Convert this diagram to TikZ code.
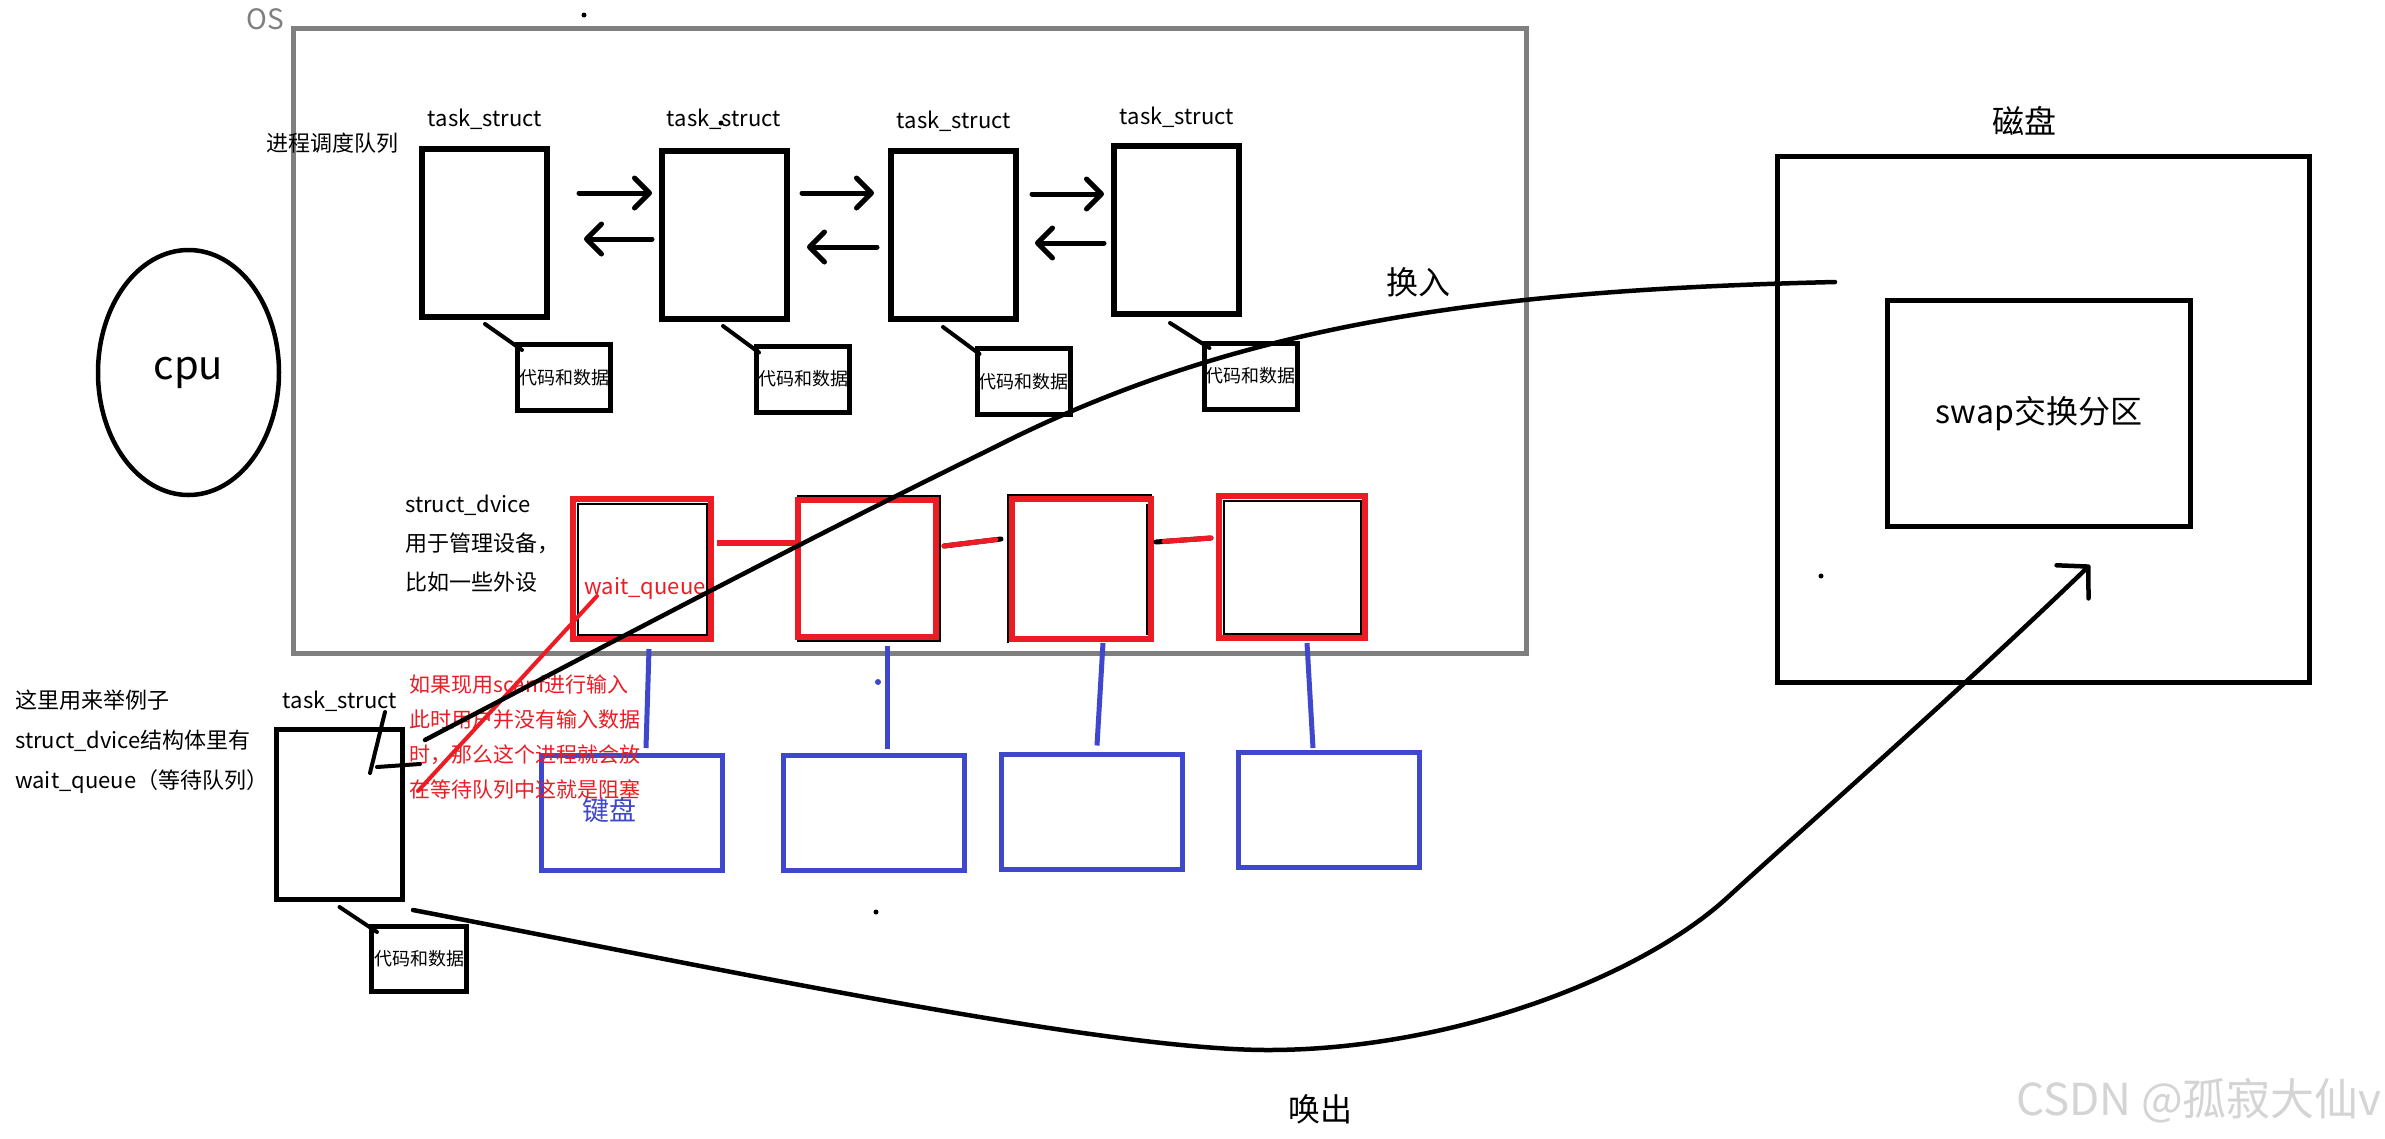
\documentclass[tikz,border=0pt]{standalone}
\usepackage{fontspec}
\setmainfont{Noto Sans CJK SC}
\usetikzlibrary{arrows.meta,shapes.geometric}
\definecolor{pred}{HTML}{ED1C24}
\definecolor{pblue}{HTML}{3F48CC}
\definecolor{osgray}{HTML}{7F7F7F}
\definecolor{wmgray}{HTML}{D4D4D4}
\tikzset{
  taskbox/.style={draw, line width=6pt, minimum width=125pt, minimum height=168pt, inner sep=0pt, outer sep=0pt},
  codebox/.style={draw, line width=5pt, minimum width=93pt, minimum height=66pt, inner sep=0pt, outer sep=0pt, font=\fontsize{18pt}{20pt}\selectfont},
  devbox/.style={draw=pred, line width=5.5pt, inner sep=0pt, outer sep=0pt},
  iobox/.style={draw=pblue, line width=5pt, inner sep=0pt, outer sep=0pt, minimum width=181pt, minimum height=115pt},
  link/.style={line width=4pt, line cap=round},
  thinblk/.style={line width=2pt},
  qarrow/.style={line width=5pt, line cap=round, -{Straight Barb[length=15pt,width=30pt,round]}},
  redln/.style={draw=pred, line width=5pt, line cap=round},
  blueln/.style={draw=pblue, line width=5pt},
  curve/.style={line width=4.5pt, line cap=round},
  lbl/.style={inner sep=0pt, font=\fontsize{22pt}{26pt}\selectfont},
  big/.style={inner sep=0pt, font=\fontsize{32pt}{36pt}\selectfont},
}
\begin{document}
\begin{tikzpicture}[x=1pt,y=-1pt]
\useasboundingbox (0,0) rectangle (2385,1138);
\fill[white] (0,0) rectangle (2385,1138);

% OS frame
\node[draw=osgray, line width=5pt, minimum width=1233pt, minimum height=625pt, inner sep=0pt, outer sep=0pt] (os) at (910,341) {};
\node[text=osgray, inner sep=0pt, font=\fontsize{28pt}{30pt}\selectfont] (oslbl) at (265,19) {OS};

% cpu
\node[draw, ellipse, line width=4.5pt, minimum width=181pt, minimum height=245pt, inner sep=0pt, font=\fontsize{40pt}{44pt}\selectfont] (cpu) at (188.5,372.5) {cpu};

% process queue
\node[lbl] (pq) at (332,143) {进程调度队列};
\node[taskbox] (t1) at (484,232.5) {};
\node[taskbox] (t2) at (724,234.5) {};
\node[taskbox] (t3) at (953,235) {};
\node[taskbox] (t4) at (1176.5,230) {};
\node[lbl] (l1) at (485,119) {task\_struct};
\node[lbl] (l2) at (724,119) {task\_struct};
\node[lbl] (l3) at (954,121) {task\_struct};
\node[lbl] (l4) at (1177,117) {task\_struct};

\draw[qarrow] ([shift={(32.5,-39.5)}]t1.east) -- ([shift={(-9.5,-41.5)}]t2.west);
\draw[qarrow] ([shift={(-9.5,4.5)}]t2.west) -- ([shift={(37.5,6.5)}]t1.east);
\draw[qarrow] ([shift={(15.5,-41.5)}]t2.east) -- ([shift={(-16.5,-42)}]t3.west);
\draw[qarrow] ([shift={(-13.5,12)}]t3.west) -- ([shift={(20.5,12.5)}]t2.east);
\draw[qarrow] ([shift={(16.5,-41)}]t3.east) -- ([shift={(-10,-36)}]t4.west);
\draw[qarrow] ([shift={(-10,13)}]t4.west) -- ([shift={(19.5,8)}]t3.east);

\node[codebox] (c1) at (564,377.5) {代码和数据};
\node[codebox] (c2) at (803,379) {代码和数据};
\node[codebox] (c3) at (1023.5,381.5) {代码和数据};
\node[codebox] (c4) at (1250.5,376) {代码和数据};
\draw[link] ([shift={(1,7.5)}]t1.south) -- ([shift={(4.5,5.5)}]c1.north west);
\draw[link] ([shift={(-1,7.5)}]t2.south) -- ([shift={(2.5,6.5)}]c2.north west);
\draw[link] ([shift={(-10,8)}]t3.south) -- ([shift={(2.5,5.5)}]c3.north west);
\draw[link] ([shift={(-6.5,9)}]t4.south) -- ([shift={(5.5,5)}]c4.north west);

% devices
\node[lbl, anchor=west, align=left, font=\fontsize{22pt}{39pt}\selectfont] (sd) at (405,544) {struct\_dvice\\用于管理设备，\\比如一些外设};

\node[devbox, minimum width=138pt, minimum height=140pt] (r1) at (642,569) {};
\node[devbox, minimum width=138pt, minimum height=137pt] (r2) at (867,568.5) {};
\node[devbox, minimum width=139pt, minimum height=140pt] (r3) at (1081.5,569) {};
\node[devbox, minimum width=146pt, minimum height=142pt] (r4) at (1292,567) {};
\draw[thinblk] ([shift={(4.5,4.5)}]r1.north west) rectangle ([shift={(-4.5,-4.5)}]r1.south east);
\draw[thinblk] ([shift={(-1,-4)}]r2.north west) -- ([shift={(4,-4)}]r2.north east) -- ([shift={(4,4)}]r2.south east) -- ([shift={(-1,4)}]r2.south west);
\draw[thinblk] ([shift={(-4,4)}]r3.south west) -- ([shift={(-4,-4)}]r3.north west) -- ([shift={(1,-4)}]r3.north east);
\draw[thinblk] ([shift={(-4.5,4.5)}]r3.north east) -- ([shift={(-4.5,-4.5)}]r3.south east);
\draw[thinblk] ([shift={(4.5,4.5)}]r4.north west) rectangle ([shift={(-4.5,-4.5)}]r4.south east);

\draw[redln, line width=6pt, line cap=butt] ([shift={(6,-26)}]r1.east) -- ([shift={(-3,-25.5)}]r2.west);
\draw[link, line width=5pt] ([shift={(8,-22.5)}]r2.east) -- ([shift={(-11,-30)}]r3.west);
\draw[redln, shorten >=5pt] ([shift={(8,-22.5)}]r2.east) -- ([shift={(-11,-30)}]r3.west);
\draw[link, line width=5pt] ([shift={(5,-27)}]r3.east) -- ([shift={(-8,-29)}]r4.west);
\draw[redln, shorten <=8pt] ([shift={(5,-27)}]r3.east) -- ([shift={(-8,-29)}]r4.west);

\node[lbl, text=pred] (wq) at (645,588) {wait\_queue};

% IO devices
\node[iobox] (b1) at (632,813) {};
\node[iobox] (b2) at (873.5,813) {};
\node[iobox] (b3) at (1092,811.5) {};
\node[iobox] (b4) at (1328.5,810) {};
\node[inner sep=0pt, text=pblue, font=\fontsize{27pt}{30pt}\selectfont] (kb) at (609,810) {键盘};
\draw[blueln] ([shift={(7,10)}]r1.south) -- ([shift={(14,-7.5)}]b1.north);
\draw[blueln] ([shift={(20,9)}]r2.south) -- ([shift={(13.5,-6.5)}]b2.north);
\draw[blueln] ([shift={(21.5,4)}]r3.south) -- ([shift={(5,-8.5)}]b3.north);
\draw[blueln] ([shift={(15,5)}]r4.south) -- ([shift={(-15.5,-4.5)}]b4.north);
\fill[pblue] (878,682) circle (3pt);

% example task struct
\node[lbl, anchor=west, align=left, font=\fontsize{22pt}{40pt}\selectfont] (note) at (15,742) {这里用来举例子\\struct\_dvice结构体里有\\wait\_queue（等待队列）};
\node[taskbox, line width=5pt, minimum width=126pt, minimum height=170pt] (ts) at (339.5,814.5) {};
\node[lbl] (lts) at (340,701) {task\_struct};
\node[codebox, minimum width=95pt, minimum height=65pt] (c0) at (419,959) {代码和数据};
\draw[link] ([shift={(0,7.5)}]ts.south) -- ([shift={(5.5,5.5)}]c0.north west);
\draw[link] ([shift={(-17.5,-17.5)}]ts.north east) -- ([shift={(-32.5,43.5)}]ts.north east);
\draw[link] ([shift={(-25.5,-47.5)}]ts.east) -- ([shift={(17.5,-50.5)}]ts.east);

\node[lbl, anchor=west, align=left, text=pred, font=\fontsize{21pt}{35pt}\selectfont] (ann) at (409,737) {如果现用scanf进行输入\\此时用户并没有输入数据\\时，那么这个进程就会放\\在等待队列中这就是阻塞};
\draw[redln, line width=4pt] ([shift={(-48,8)}]wq.center) -- ([shift={(15.5,-23.5)}]ts.east);

% disk
\node[draw, line width=5pt, minimum width=532pt, minimum height=526pt, inner sep=0pt, outer sep=0pt] (disk) at (2043.5,419.5) {};
\node[big] (dlbl) at (2024,121) {磁盘};
\node[draw, line width=5.5pt, minimum width=303pt, minimum height=226pt, inner sep=0pt, outer sep=0pt, font=\fontsize{32pt}{36pt}\selectfont] (swap) at (2039,413.5) {swap交换分区};

% swap in / out curves
\coordinate (inS) at (425,740);
\coordinate (inE) at (1835,282);
\draw[curve] (inS) .. controls (616,640) and (805,540) .. (995,447) .. controls (1245,320) and (1500,290) .. (inE);
\node[big] (inlbl) at (1418,282) {换入};

\coordinate (outS) at (413,910);
\coordinate (outE) at (2090,565);
\draw[curve, -{Straight Barb[length=22pt,width=46pt,round]}] (outS) .. controls (700,965) and (1100,1050) .. (1268,1050) .. controls (1450,1050) and (1640,978) .. (1728,897) .. controls (1790,840) and (1950,700) .. (outE);
\node[big] (outlbl) at (1320,1109) {唤出};

% stray dots
\fill (584,15) circle (2.5pt);
\fill (721,123) circle (2.5pt);
\fill (1821,576) circle (2.5pt);
\fill (876,912) circle (2.5pt);

% watermark
\node[text=wmgray, inner sep=0pt, anchor=east, font=\fontsize{44pt}{48pt}\selectfont] (wm) at (2382,1101) {CSDN @孤寂大仙v};
\end{tikzpicture}
\end{document}
